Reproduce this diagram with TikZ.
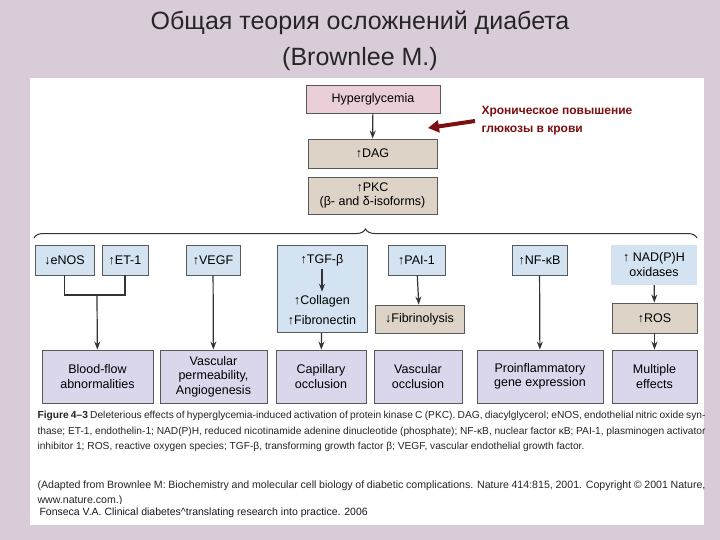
\documentclass[tikz,border=0pt]{standalone}
\usepackage{fontspec}
\setmainfont{Liberation Sans}
\usetikzlibrary{arrows.meta,decorations.pathreplacing}
\definecolor{bg}{HTML}{D9CCD9}
\definecolor{pinkb}{HTML}{EBCFD8}
\definecolor{tanb}{HTML}{DDD3C6}
\definecolor{blueb}{HTML}{D3E3F2}
\definecolor{lavb}{HTML}{DAD6EC}
\definecolor{darkred}{HTML}{7A1010}
\begin{document}
\begin{tikzpicture}[x=1pt,y=-1pt,
 bx/.style={draw=black!65,line width=0.9pt,inner sep=0pt,font=\fontsize{12.5}{14.5}\selectfont,align=center},
 arr/.style={-{Stealth[length=8pt,width=6pt]},line width=1.2pt,black!80}]
\fill[bg] (0,0) rectangle (720,540);
\useasboundingbox (0,0) rectangle (720,540);
\fill[white] (30,78) rectangle (704,525);
\node[font=\fontsize{25}{36}\selectfont,text=black!85,align=center] (title) at (360,41) {Общая теория осложнений диабета\\(Brownlee M.)};
% top chain
\node[bx,fill=pinkb,minimum width=134,minimum height=28] (hyp) at (373,99) {Hyperglycemia};
\node[bx,fill=tanb,minimum width=129,minimum height=29] (dag) at (372.5,153.5) {↑DAG};
\node[bx,fill=tanb,minimum width=129,minimum height=37] (pkc) at (372.5,195.5) {↑PKC\\(β- and δ-isoforms)};
\draw[arr] (hyp) -- (dag);
% annotation
\node[anchor=west,text=darkred,font=\bfseries\fontsize{12}{18}\selectfont,align=left] (ann) at (478,121) {Хроническое повышение\\глюкозы в крови};
\coordinate (annt) at (428,128);
\draw[-{Triangle[length=11pt,width=12pt]},line width=4pt,darkred] ([xshift=-3pt]ann.west) -- (annt);
% brace
\draw[line width=1pt,black!80,decorate,decoration={brace,amplitude=9pt}] (34,238) -- (697,238);
% row 2
\node[bx,fill=blueb,minimum width=59,minimum height=30] (enos) at (64.5,260) {↓eNOS};
\node[bx,fill=blueb,minimum width=46,minimum height=30] (et) at (125,260) {↑ET-1};
\node[bx,fill=blueb,minimum width=54,minimum height=30] (vegf) at (213,260) {↑VEGF};
\node[bx,fill=blueb,minimum width=90,minimum height=87,anchor=north] (tgf) at (322,245) {};
\node[font=\fontsize{12.5}{14.5}\selectfont] (tgft) at (322,260) {↑TGF-β};
\node[font=\fontsize{12.5}{20}\selectfont,align=center] (col) at (322,310) {↑Collagen\\↑Fibronectin};
\draw[arr] (tgft) -- (col);
\node[bx,fill=blueb,minimum width=57,minimum height=30] (pai) at (416.5,260) {↑PAI-1};
\node[bx,fill=tanb,minimum width=89,minimum height=28] (fib) at (419.5,319) {↓Fibrinolysis};
\node[bx,fill=blueb,minimum width=55,minimum height=30] (nfkb) at (539.5,260) {↑NF-κB};
\node[fill=blueb,inner sep=0pt,minimum width=86,minimum height=40,align=center,font=\fontsize{12.5}{15}\selectfont] (nad) at (654,265) {↑ NAD(P)H\\oxidases};
\node[bx,fill=tanb,minimum width=85,minimum height=30] (ros) at (654.5,318) {↑ROS};
% bottom row
\begin{scope}[every node/.append style={bx,fill=lavb,minimum height=53}]
\node[minimum width=111] (b1) at (97.5,376.5) {Blood-flow\\abnormalities};
\node[minimum width=107] (b2) at (213.5,376.5) {Vascular\\permeability,\\Angiogenesis};
\node[minimum width=90] (b3) at (321,376.5) {Capillary\\occlusion};
\node[minimum width=88] (b4) at (418,376.5) {Vascular\\occlusion};
\node[minimum width=126] (b5) at (540,376.5) {Proinflammatory\\gene expression};
\node[minimum width=85] (b6) at (654.5,376.5) {Multiple\\effects};
\end{scope}
% connectors
\coordinate (j) at (97,295);
\draw[line width=1.2pt,black!80] (enos.south) |- (j) -| (et.south);
\draw[arr] (j) -- (b1);
\draw[arr] (vegf) -- (b2);
\draw[arr] (tgf) -- (b3);
\draw[arr] (pai) -- (fib);
\draw[arr] (nfkb) -- (b5);
\draw[arr] (nad) -- (ros);
\draw[arr] (ros) -- (b6);
% caption
\node[anchor=north west,text width=668,align=justify,font=\fontsize{10.2}{15.3}\selectfont,text=black!85] (cap) at (34,408) {\textbf{Figure 4–3} Deleterious effects of hyperglycemia-induced activation of protein kinase C (PKC). DAG, diacylglycerol; eNOS, endothelial nitric oxide synthase; ET-1, endothelin-1; NAD(P)H, reduced nicotinamide adenine dinucleotide (phosphate); NF-κB, nuclear factor κB; PAI-1, plasminogen activator inhibitor 1; ROS, reactive oxygen species; TGF-β, transforming growth factor β; VEGF, vascular endothelial growth factor.};
\begin{scope}
\clip (30,475) rectangle (704,503);
\node[anchor=north west,text width=668,align=justify,font=\fontsize{10.6}{15.3}\selectfont,text=black!85] (adapt) at (34,477) {(Adapted from Brownlee M: Biochemistry and molecular cell biology of diabetic complications. Nature 414:815, 2001. Copyright © 2001 Nature, www.nature.com.)};
\end{scope}
\node[anchor=west,font=\fontsize{10.5}{12}\selectfont,text=black!90] (src) at (36,513) {Fonseca V.A. Clinical diabetes\^{}translating research into practice. 2006};
\end{tikzpicture}
\end{document}
